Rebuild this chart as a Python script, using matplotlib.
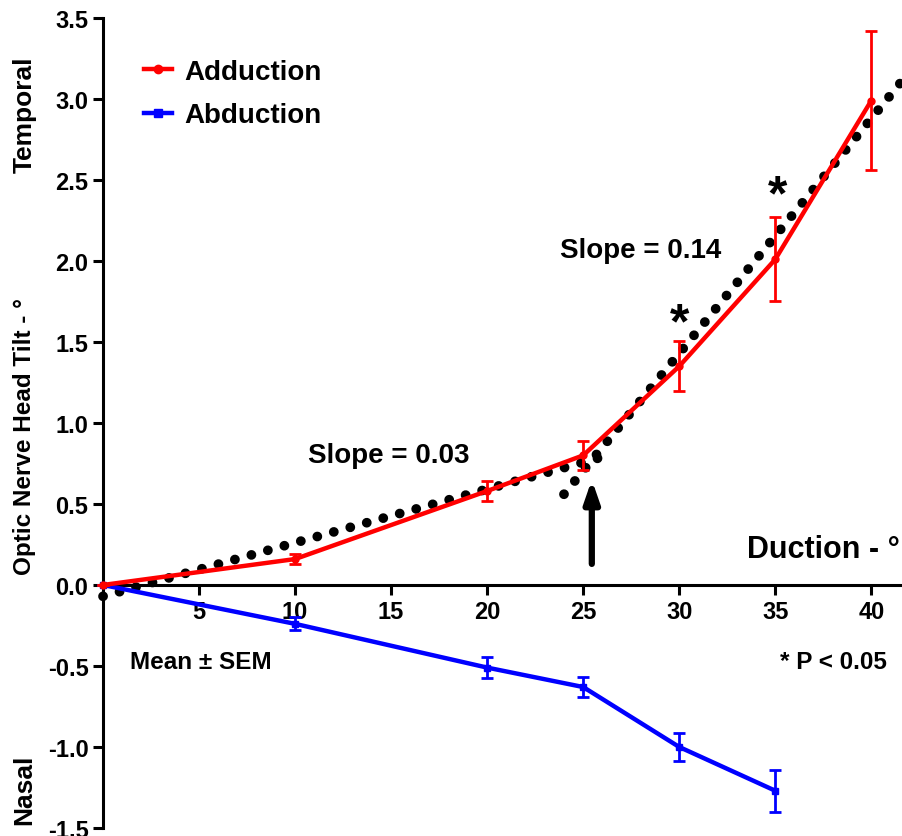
"""Optic nerve head tilt vs duction, adduction and abduction."""
import matplotlib
matplotlib.use("Agg")
import matplotlib.pyplot as plt
from matplotlib.lines import Line2D

plt.rcParams['font.family'] = ['Liberation Sans', 'DejaVu Sans']
plt.rcParams['font.weight'] = 'bold'

# Data
add_x = [0, 10, 20, 25, 30, 35, 40]
add_y = [0.0, 0.16, 0.58, 0.80, 1.35, 2.01, 2.99]
add_sem = [0.0, 0.03, 0.06, 0.09, 0.155, 0.26, 0.43]

abd_x = [0, 10, 20, 25, 30, 35]
abd_y = [0.0, -0.24, -0.51, -0.63, -1.00, -1.27]
abd_sem = [0.0, 0.04, 0.065, 0.06, 0.085, 0.13]

# fitted segments (dotted)
fit1_x = [0, 26.6]
fit1_y = [-0.07, 0.81]
fit2_x = [24.0, 41.8]
fit2_y = [0.56, 3.14]

x_ticks = [5, 10, 15, 20, 25, 30, 35, 40]
y_ticks = [-1.5, -1.0, -0.5, 0.0, 0.5, 1.0, 1.5, 2.0, 2.5, 3.0, 3.5]

RED = '#ff0000'
BLUE = '#0000ff'

fig = plt.figure(figsize=(9.02, 8.37), dpi=100)
ax = fig.add_axes([0.1142, 0.0096, 1 - 0.1142, 0.9677])
ax.set_xlim(0, 41.6)
ax.set_ylim(-1.5, 3.5)

# dotted fit lines
dot_style = dict(color='black', linewidth=7, linestyle=(0, (0.01, 1.75)),
                 dash_capstyle='round', zorder=2, clip_on=False)
ax.plot(fit1_x, fit1_y, **dot_style)
ax.plot(fit2_x, fit2_y, **dot_style)

ax.errorbar(abd_x, abd_y, yerr=abd_sem, color=BLUE, linewidth=3.2,
            marker='s', markersize=5, elinewidth=2, capsize=4.5, capthick=2,
            zorder=3, clip_on=False)
ax.errorbar(add_x, add_y, yerr=add_sem, color=RED, linewidth=3.2,
            marker='o', markersize=5, elinewidth=2, capsize=4.5, capthick=2,
            zorder=4, clip_on=False)

# spines
for side in ['top', 'right']:
    ax.spines[side].set_visible(False)
ax.spines['bottom'].set_position(('data', 0))
ax.spines['left'].set_linewidth(2.2)
ax.spines['bottom'].set_linewidth(2.2)

ax.set_xticks(x_ticks)
ax.set_xticklabels([str(t) for t in x_ticks])
ax.set_yticks(y_ticks)
ax.set_yticklabels(['%.1f' % t for t in y_ticks])
ax.tick_params(axis='both', width=2.2, length=7, labelsize=17, direction='out')
ax.tick_params(axis='x', pad=4)

# legend
handles = [Line2D([], [], color=RED, lw=3.2, marker='o', markersize=6),
           Line2D([], [], color=BLUE, lw=3.2, marker='s', markersize=6)]
ax.legend(handles, ['Adduction', 'Abduction'], loc='upper left',
          bbox_to_anchor=(0.132, 0.958), bbox_transform=fig.transFigure,
          frameon=False, fontsize=20, handlelength=1.0, handletextpad=0.45,
          labelspacing=0.62)

# annotations
ax.text(14.9, 0.80, 'Slope = 0.03', fontsize=20, ha='center', va='center')
ax.text(28.0, 2.07, 'Slope = 0.14', fontsize=20, ha='center', va='center')
ax.text(30.0, 1.61, '*', fontsize=36, ha='center', va='center')
ax.text(35.1, 2.40, '*', fontsize=36, ha='center', va='center')
ax.text(41.5, 0.22, 'Duction - °', fontsize=22, ha='right', va='center')
ax.text(1.4, -0.47, 'Mean ± SEM', fontsize=17.5, ha='left', va='center')
ax.text(40.8, -0.47, '* P < 0.05', fontsize=17.5, ha='right', va='center')

ax.annotate('', xy=(25.45, 0.65), xytext=(25.45, 0.13),
            arrowprops=dict(arrowstyle='-|>,head_length=1.3,head_width=0.45',
                            color='black', lw=4.5, shrinkA=0, shrinkB=0))

# y labels
fig.text(0.027, 0.478, 'Optic Nerve Head Tilt - °', rotation=90,
         fontsize=17.5, ha='center', va='center')
fig.text(0.027, 0.863, 'Temporal', rotation=90, fontsize=19,
         ha='center', va='center')
fig.text(0.027, 0.056, 'Nasal', rotation=90, fontsize=19,
         ha='center', va='center')

fig.savefig('out.png', dpi=100, facecolor='white')
